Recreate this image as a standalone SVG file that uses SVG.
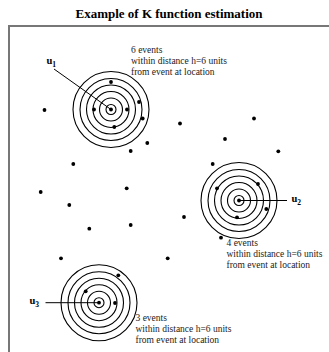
<svg xmlns="http://www.w3.org/2000/svg" width="329" height="352" viewBox="0 0 329 352">
<defs>
<style>
.title{font-family:"Liberation Serif","Times New Roman",serif;font-size:13px;font-weight:bold;fill:#000}
.lbl{font-family:"Liberation Serif","Times New Roman",serif;font-size:9.5px;fill:#222}
.u{font-family:"Liberation Serif","Times New Roman",serif;font-size:10.5px;font-weight:bold;fill:#000}
.sub{font-family:"Liberation Serif","Times New Roman",serif;font-size:7.5px;fill:#000}
.ring{fill:none;stroke:#000;stroke-width:1.1}
.pt{fill:#000}
.conn{stroke:#000;stroke-width:1;fill:none}
.frame{stroke:#777;stroke-width:2;fill:none}
</style>
<g id="rings">
<circle class="ring" r="5"/>
<circle class="ring" r="11.5"/>
<circle class="ring" r="18"/>
<circle class="ring" r="24.5"/>
<circle class="ring" r="31"/>
<circle class="ring" r="38"/>
<circle class="pt" r="1.9"/>
</g>
</defs>
<rect width="329" height="352" fill="#fff"/>
<text class="title" x="169" y="18" text-anchor="middle">Example of K function estimation</text>
<path class="frame" d="M9,353 V26 H330"/>

<g id="u1">
<use href="#rings" x="111" y="109.5"/>
<circle class="pt" cx="111" cy="82" r="1.9"/>
<circle class="pt" cx="94" cy="109.5" r="1.9"/>
<circle class="pt" cx="127" cy="109.5" r="1.9"/>
<circle class="pt" cx="139" cy="102" r="1.9"/>
<circle class="pt" cx="142.7" cy="118.5" r="1.9"/>
<circle class="pt" cx="114.3" cy="127" r="1.9"/>
<text class="u" x="46.5" y="64">u<tspan class="sub" dy="2.5">1</tspan></text>
<text class="lbl" x="131" y="53">6 events</text>
<text class="lbl" x="131" y="64">within distance h=6 units</text>
<text class="lbl" x="131" y="75">from event at location</text>
</g>

<g id="u2">
<use href="#rings" x="239" y="200.5"/>
<circle class="pt" cx="217" cy="188.3" r="1.9"/>
<circle class="pt" cx="258" cy="184" r="1.9"/>
<circle class="pt" cx="266.3" cy="209" r="1.9"/>
<circle class="pt" cx="237" cy="217.3" r="1.9"/>
<text class="u" x="291.5" y="202">u<tspan class="sub" dy="2.5">2</tspan></text>
<text class="lbl" x="226.5" y="246">4 events</text>
<text class="lbl" x="226.5" y="257">within distance h=6 units</text>
<text class="lbl" x="226.5" y="268">from event at location</text>
</g>

<g id="u3">
<use href="#rings" x="99" y="302.7"/>
<circle class="pt" cx="118.3" cy="275.3" r="1.9"/>
<circle class="pt" cx="85.7" cy="291.3" r="1.9"/>
<circle class="pt" cx="115" cy="303" r="1.9"/>
<text class="u" x="29.5" y="304">u<tspan class="sub" dy="2.5">3</tspan></text>
<text class="lbl" x="135.5" y="321">3 events</text>
<text class="lbl" x="135.5" y="332">within distance h=6 units</text>
<text class="lbl" x="135.5" y="343">from event at location</text>
</g>

<g id="events">
<circle class="pt" cx="44.5" cy="110" r="1.9"/>
<circle class="pt" cx="254" cy="118.5" r="1.9"/>
<circle class="pt" cx="180" cy="123.5" r="1.9"/>
<circle class="pt" cx="147.3" cy="143" r="1.9"/>
<circle class="pt" cx="130.7" cy="151" r="1.9"/>
<circle class="pt" cx="225" cy="139" r="1.9"/>
<circle class="pt" cx="278.3" cy="151.3" r="1.9"/>
<circle class="pt" cx="73.3" cy="164" r="1.9"/>
<circle class="pt" cx="212.7" cy="164" r="1.9"/>
<circle class="pt" cx="40.7" cy="192" r="1.9"/>
<circle class="pt" cx="126.7" cy="188.3" r="1.9"/>
<circle class="pt" cx="69.3" cy="205" r="1.9"/>
<circle class="pt" cx="184" cy="217" r="1.9"/>
<circle class="pt" cx="89.3" cy="228.7" r="1.9"/>
<circle class="pt" cx="130.7" cy="225" r="1.9"/>
<circle class="pt" cx="221" cy="237.7" r="1.9"/>
<circle class="pt" cx="61" cy="258.3" r="1.9"/>
<circle class="pt" cx="167.7" cy="258.3" r="1.9"/>
</g>

<g id="connectors">
<line class="conn" x1="54" y1="69" x2="111" y2="109.5"/>
<line class="conn" x1="239" y1="200.5" x2="287" y2="200.5"/>
<line class="conn" x1="45.5" y1="302.7" x2="99" y2="302.7"/>
</g>
</svg>
